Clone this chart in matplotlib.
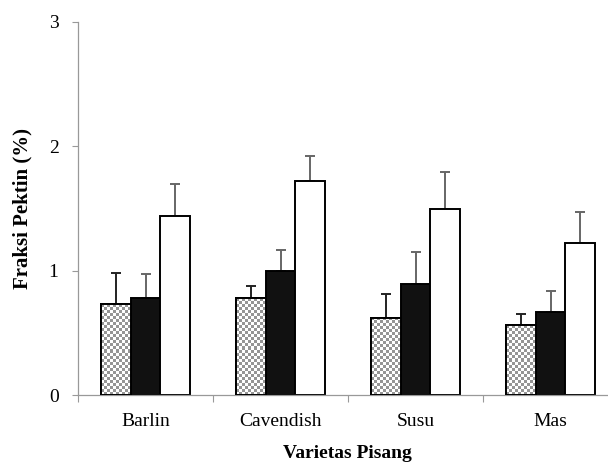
import matplotlib.pyplot as plt
import numpy as np

plt.rcParams['font.family'] = ['Liberation Serif', 'DejaVu Serif']

varietas = ['Barlin', 'Cavendish', 'Susu', 'Mas']
seri_a = [0.73, 0.78, 0.62, 0.56]   # checkered
seri_b = [0.78, 1.00, 0.89, 0.67]   # black
seri_c = [1.44, 1.72, 1.50, 1.22]   # white
err_a = [0.25, 0.10, 0.19, 0.09]
err_b = [0.19, 0.17, 0.26, 0.17]
err_c = [0.26, 0.20, 0.29, 0.25]

fig = plt.figure(figsize=(6.08, 4.63), dpi=100)
ax = fig.add_axes([78/608, 1-395/463, 540/608, 373/463])

x = np.arange(len(varietas))
w = 0.222

b1 = ax.bar(x - w, seri_a, w, color='white', edgecolor='black', linewidth=1.4, zorder=2)
b2 = ax.bar(x, seri_b, w, color='#111111', edgecolor='black', linewidth=1.4, zorder=2)
b3 = ax.bar(x + w, seri_c, w, color='white', edgecolor='black', linewidth=1.4, zorder=2)

ax.errorbar(x - w, seri_a, yerr=[np.zeros(4), err_a], fmt='none', ecolor='#222222',
            elinewidth=1.4, capsize=3.5, capthick=1.4, zorder=1)
ax.errorbar(x, seri_b, yerr=[np.zeros(4), err_b], fmt='none', ecolor='#666666',
            elinewidth=1.4, capsize=3.5, capthick=1.4, zorder=1)
ax.errorbar(x + w, seri_c, yerr=[np.zeros(4), err_c], fmt='none', ecolor='#666666',
            elinewidth=1.4, capsize=3.5, capthick=1.4, zorder=1)

ax.set_xlim(-0.5, 3.5)
ax.set_ylim(0, 3)

# checkerboard fill for the first series
fig.canvas.draw()
for bar in b1:
    bx, by = bar.get_x(), bar.get_y()
    bw, bh = bar.get_width(), bar.get_height()
    p0 = ax.transData.transform((bx, by))
    p1 = ax.transData.transform((bx + bw, by + bh))
    nx = max(1, int(round(abs(p1[0] - p0[0]) / 3)))
    ny = max(1, int(round(abs(p1[1] - p0[1]) / 3)))
    board = (np.indices((ny, nx)).sum(axis=0) % 2).astype(float)
    im = ax.imshow(board, cmap='gray', vmin=-1.4, vmax=1, extent=(bx, bx + bw, by, by + bh),
                   aspect='auto', interpolation='nearest', zorder=2.5)
    im.set_clip_path(bar)
    ax.bar(bx + bw / 2, bh, bw, color='none', edgecolor='black', linewidth=1.4, zorder=3)

ax.set_xticks(x)
ax.set_xticklabels(varietas, fontsize=14)
ax.set_xticks(np.arange(-0.5, 4.0, 1.0), minor=True)
ax.tick_params(axis='x', which='major', length=0, pad=13)
ax.tick_params(axis='x', which='minor', length=5, color='#999999', width=0.8)
ax.set_yticks([0, 1, 2, 3])
ax.tick_params(axis='y', length=4, color='#999999', width=0.8, labelsize=14, pad=10)

for s in ['top', 'right']:
    ax.spines[s].set_visible(False)
for s in ['left', 'bottom']:
    ax.spines[s].set_color('#999999')
    ax.spines[s].set_linewidth(0.9)

ax.set_ylabel('Fraksi Pektin (%)', fontsize=15, fontweight='bold', labelpad=12)
fig.text(347/608, 1-454/463, 'Varietas Pisang', fontsize=14, fontweight='bold',
         ha='center', va='center')

fig.savefig('out.png', dpi=100)
